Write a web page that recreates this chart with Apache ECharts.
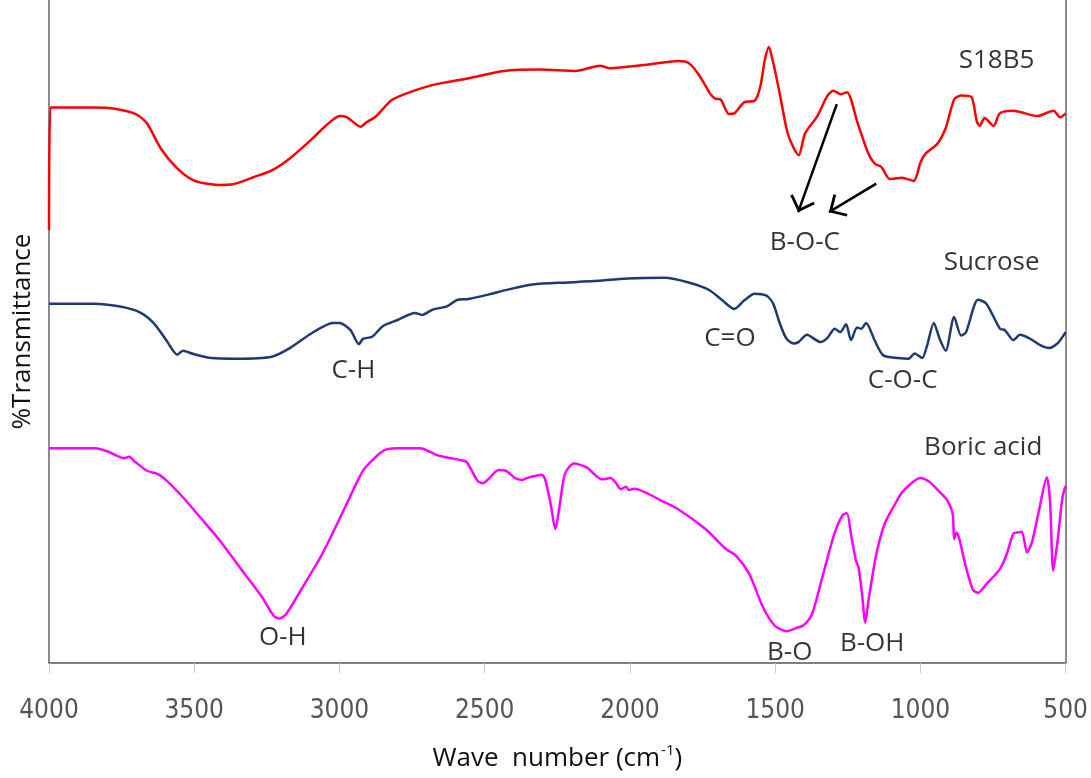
<!DOCTYPE html>
<html>
<head>
<meta charset="utf-8">
<script src="https://cdn.jsdelivr.net/npm/echarts@6/dist/echarts.min.js"></script>
<style>
html,body{margin:0;padding:0;background:#fff;}
#chart{width:1091px;height:778px;}
</style>
</head>
<body>
<div id="chart"></div>
<script>
// x: wave number (cm-1), y: relative %Transmittance (offset curves)
var s18b5 = [[4000,65.3],[3995,83.8],[3846,83.8],[3773,83.6],[3701,82.8],[3663,81.4],[3615,77.6],[3563,74.8],[3502,72.8],[3416,72.1],[3367,72.2],[3294,73.3],[3233,74.3],[3171,76.1],[3098,78.9],[3048,81.0],[2999,82.5],[2974,82.3],[2927,80.9],[2906,81.6],[2876,82.4],[2820,84.9],[2764,86.0],[2678,87.2],[2556,88.2],[2434,89.3],[2310,89.5],[2187,89.3],[2103,90.1],[2069,89.7],[1950,90.2],[1834,90.8],[1798,90.5],[1764,88.8],[1723,85.8],[1705,85.1],[1688,85.0],[1659,82.8],[1641,82.9],[1606,84.6],[1571,84.8],[1551,87.0],[1536,90.9],[1522,92.9],[1507,90.6],[1484,85.8],[1455,79.6],[1419,76.6],[1397,79.9],[1356,82.4],[1321,85.5],[1300,86.3],[1274,85.8],[1253,86.1],[1216,81.4],[1181,77.0],[1157,75.3],[1134,74.8],[1106,73.0],[1064,73.2],[1023,72.7],[1000,75.5],[983,76.8],[942,78.3],[913,80.7],[884,85.0],[860,85.6],[825,85.4],[806,81.7],[796,81.0],[779,82.2],[748,81.0],[727,82.9],[680,83.3],[598,82.5],[542,83.3],[519,82.3],[500,82.9]];

var sucrose = [[4000,54.2],[3846,54.2],[3760,53.8],[3687,52.9],[3638,51.2],[3595,48.6],[3558,46.5],[3539,47.1],[3502,46.6],[3441,46.0],[3355,45.9],[3233,46.2],[3171,47.5],[3097,49.7],[3023,51.3],[2999,51.3],[2962,50.2],[2933,48.1],[2919,48.9],[2888,49.2],[2851,50.8],[2802,51.7],[2740,52.8],[2716,52.5],[2679,53.3],[2630,53.8],[2593,54.8],[2556,54.9],[2476,55.7],[2433,56.2],[2335,57.1],[2212,57.4],[2125,57.6],[2008,58.0],[1880,58.1],[1798,57.4],[1729,56.3],[1682,54.7],[1641,53.4],[1606,54.7],[1571,55.7],[1530,55.4],[1507,54.2],[1484,51.2],[1461,48.9],[1437,48.2],[1420,48.4],[1391,49.5],[1344,48.4],[1321,49.0],[1295,50.4],[1276,49.9],[1256,51.1],[1239,48.7],[1218,50.6],[1204,50.4],[1187,51.3],[1157,48.6],[1128,46.4],[1076,46.0],[1041,45.9],[1020,46.7],[994,46.0],[977,47.9],[954,51.3],[934,48.9],[913,47.1],[884,52.2],[860,49.4],[843,49.9],[802,54.8],[773,54.2],[726,50.4],[709,50.2],[680,48.7],[657,49.5],[622,48.9],[586,47.9],[557,47.5],[528,48.2],[500,49.9]];

var boricAcid = [[4000,32.4],[3840,32.4],[3797,31.9],[3742,30.9],[3724,31.1],[3705,30.4],[3663,29.0],[3625,28.5],[3595,27.5],[3539,25.0],[3478,21.9],[3416,18.7],[3343,14.4],[3269,10.1],[3226,7.1],[3207,6.7],[3183,7.4],[3134,10.9],[3060,16.4],[2986,23.0],[2919,29.0],[2882,30.8],[2845,32.1],[2802,32.4],[2722,32.4],[2667,31.4],[2630,31.0],[2581,30.6],[2562,30.3],[2525,27.5],[2507,27.1],[2488,27.7],[2452,29.1],[2427,29.0],[2396,27.9],[2372,27.6],[2347,28.0],[2304,28.4],[2292,27.7],[2273,24.0],[2257,20.2],[2243,23.5],[2224,28.5],[2193,30.1],[2149,29.5],[2096,27.7],[2067,27.9],[2049,27.2],[2031,26.2],[2014,26.6],[2003,26.1],[1985,26.3],[1892,24.5],[1834,23.2],[1740,20.2],[1670,17.2],[1635,16.2],[1589,13.4],[1542,8.4],[1501,5.6],[1460,4.8],[1426,5.3],[1402,5.7],[1373,7.4],[1338,12.9],[1297,19.4],[1268,22.3],[1253,22.6],[1239,19.4],[1222,15.4],[1213,14.4],[1201,10.4],[1190,6.1],[1179,9.4],[1152,16.4],[1123,21.0],[1087,24.0],[1064,25.7],[1029,27.2],[1000,27.9],[972,27.4],[936,25.9],[907,24.5],[889,22.5],[884,18.7],[876,19.7],[866,18.7],[843,14.4],[820,11.1],[802,10.6],[773,11.9],[726,14.2],[703,16.4],[680,19.5],[662,19.7],[651,19.8],[633,16.7],[616,18.2],[592,23.0],[565,28.0],[554,24.5],[543,13.9],[528,18.4],[511,25.0],[500,26.7]];

var xTicks = [4000,3500,3000,2500,2000,1500,1000,500];

// annotation labels: [wave number, y, text]
var annotations = [[738,90.9,'S18B5'],[1398,63.4,'B-O-C'],[755,60.4,'Sucrose'],[2952,44.1,'C-H'],[1656,48.9,'C=O'],[1061,42.6,'C-O-C'],[784,32.5,'Boric acid'],[3195,3.9,'O-H'],[1450,1.5,'B-O'],[1166,3.0,'B-OH']];

// arrows: [from, to] in data coordinates
var arrows = [[[1288,84.3],[1421,68.0]],[[1152,72.3],[1315,68.0]]];

var chart = echarts.init(document.getElementById('chart'), null, {renderer:'canvas'});
var font = 'Open Sans';
var chevron = 'path://M10,-11.5 L10,-11.5 M10,0 L20,10 L18.5,11.5 L10,3 L1.5,11.5 L0,10 Z';

chart.setOption({
  animation:false,
  backgroundColor:'#fff',
  grid:{left:49,right:25,top:0,bottom:115,containLabel:false},
  xAxis:{
    type:'value', min:500, max:4000, interval:500, inverse:true,
    axisLine:{show:true,onZero:false,lineStyle:{color:'#555',width:1.5}},
    axisTick:{show:true,length:10,lineStyle:{color:'#c8c8c8',width:1}},
    axisLabel:{fontFamily:'DejaVu Sans Condensed, sans-serif',fontSize:26,color:'#555',margin:35,
      formatter:function(v){return xTicks.indexOf(v)>=0?String(v):'';}},
    splitLine:{show:false},
    name:'Wave  number (cm{sup|-1})', nameLocation:'middle', nameGap:80,
    nameTextStyle:{fontFamily:font,fontSize:26,color:'#111',
      rich:{sup:{fontFamily:font,fontSize:15,color:'#111',padding:[0,0,17,1]}}}
  },
  yAxis:[{
    type:'value', min:0, max:100,
    axisLine:{show:true,lineStyle:{color:'#666',width:1.5}},
    axisTick:{show:false}, axisLabel:{show:false}, splitLine:{show:false},
    name:'%Transmittance', nameLocation:'middle', nameGap:13,
    nameTextStyle:{fontFamily:font,fontSize:26,color:'#111'}
  },{
    type:'value', min:0, max:100, position:'right',
    axisLine:{show:true,lineStyle:{color:'#666',width:1.5}},
    axisTick:{show:false}, axisLabel:{show:false}, splitLine:{show:false}
  }],
  series:[
    {name:'S18B5',type:'line',data:s18b5,showSymbol:false,smooth:0.25,
     lineStyle:{color:'#ff0000',width:2.5},itemStyle:{color:'#ff0000'},
     markLine:{silent:true,symbol:['none',chevron],symbolSize:[26,30],
       lineStyle:{color:'#000',width:2.5,type:'solid'},label:{show:false},
       data:arrows.map(function(a){return [{coord:a[0]},{coord:a[1]}];})}},
    {name:'Sucrose',type:'line',data:sucrose,showSymbol:false,smooth:0.25,
     lineStyle:{color:'#1f3a6e',width:2.5},itemStyle:{color:'#1f3a6e'}},
    {name:'Boric acid',type:'line',data:boricAcid,showSymbol:false,smooth:0.25,
     lineStyle:{color:'#ff00ff',width:2.5},itemStyle:{color:'#ff00ff'}},
    {name:'labels',type:'scatter',data:annotations,symbolSize:1,silent:true,z:10,
     itemStyle:{color:'rgba(0,0,0,0)'},
     label:{show:true,position:'inside',formatter:function(p){return p.data[2];},
       fontFamily:font,fontSize:26,color:'#000'}}
  ]
});
</script>
</body>
</html>
